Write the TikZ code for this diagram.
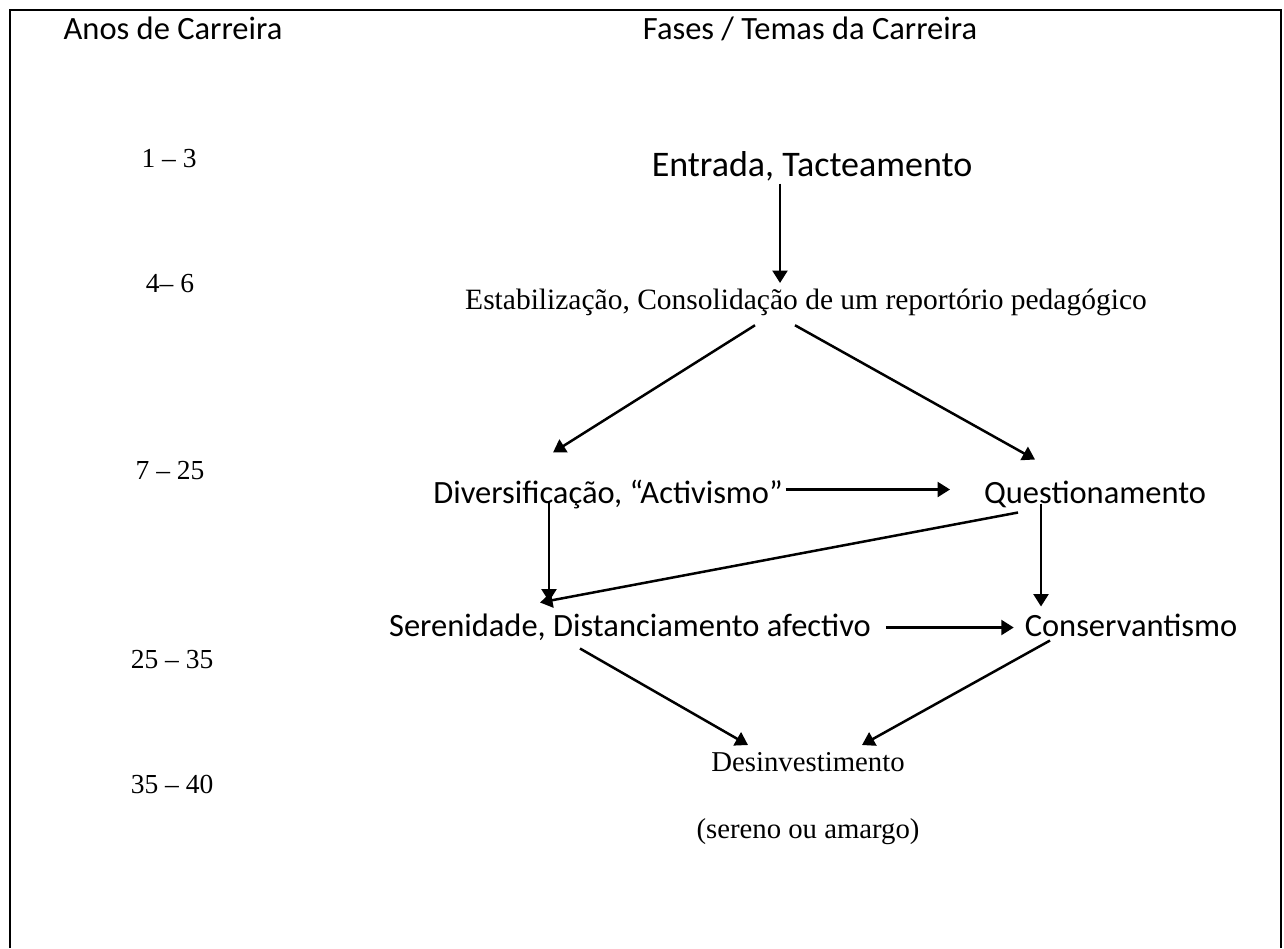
\documentclass[tikz,border=0pt]{standalone}
\usepackage{fontspec}
\setmainfont{Liberation Serif}
\newfontfamily\calib{Carlito}
\usetikzlibrary{arrows.meta,calc}

\begin{document}
\begin{tikzpicture}[x=0.4pt,y=-0.4pt,
  seta/.style={-{Triangle[length=5pt,width=6pt]},line width=1pt},
  tit/.style={font=\calib\fontsize{13}{15}\selectfont,inner sep=1pt,anchor=base},
  fase/.style={font=\calib\fontsize{13}{15}\selectfont,inner sep=1pt,anchor=base,
    text height=9pt,text depth=3pt},
  faserm/.style={font=\fontsize{11.5}{14}\selectfont,inner sep=1pt,anchor=base,
    text height=8pt,text depth=2.5pt},
  anos/.style={font=\fontsize{11}{13}\selectfont,inner sep=1pt,anchor=base}]
\useasboundingbox (0,0) rectangle (1284,948);
\draw[line width=1pt] (10,948) -- (10,10) -- (1281,10) -- (1281,948);

% cabecalho
\node[tit] (anos) at (173,39) {Anos de Carreira};
\node[tit] (fases) at (810,39) {Fases / Temas da Carreira};

% anos de carreira
\node[anos] (a1) at (169,167) {1 – 3};
\node[anos] (a2) at (170,292) {4– 6};
\node[anos] (a3) at (170,479) {7 – 25};
\node[anos] (a4) at (172,668) {25 – 35};
\node[anos] (a5) at (172,793) {35 – 40};

% fases
\node[fase,font=\calib\fontsize{14.4}{17}\selectfont,text height=10pt] (entrada) at (812,176) {Entrada, Tacteamento};
\node[faserm,font=\fontsize{11.8}{14}\selectfont] (estab) at (806,309) {Estabilização, Consolidação de um reportório pedagógico};
\node[fase] (div) at (608,503) {Diversificação, “Activismo”};
\node[fase] (quest) at (1095,503) {Questionamento};
\node[fase] (seren) at (630,636) {Serenidade, Distanciamento afectivo};
\node[fase] (cons) at (1131,636) {Conservantismo};
\node[faserm] (desinv) at (808,771) {Desinvestimento};
\node[faserm] (amargo) at (808,838) {(sereno ou amargo)};

% setas
\draw[seta] ($(entrada.south)+(-32,-3)$) -- ($(estab.north)+(-26,-3)$);
\draw[seta] ($(estab.south)+(-51,7)$) -- ($(div.north)+(-55,-25)$);
\draw[seta] ($(estab.south)+(-11,7)$) -- ($(quest.north)+(-60,-18)$);
\draw[seta] ($(div.east)+(0,-6)$) -- ($(quest.west)+(-31,-6)$);
\draw[seta] ($(div.south)+(-59,-13)$) -- ($(seren.north)+(-81,-9)$);
\draw[seta] ($(quest.south)+(-77,-1)$) -- ($(seren.north)+(-90,-8)$);
\draw[seta] ($(quest.south)+(-54,-10)$) -- ($(cons.north)+(-90,-4)$);
\draw[seta] ($(seren.east)+(12,-1)$) -- ($(cons.west)+(-8,-1)$);
\draw[seta] ($(seren.south)+(-50,2)$) -- ($(desinv.north)+(-60,-3)$);
\draw[seta] ($(cons.south)+(-81,-6)$) -- ($(desinv.north)+(54,-3)$);
\end{tikzpicture}
\end{document}
